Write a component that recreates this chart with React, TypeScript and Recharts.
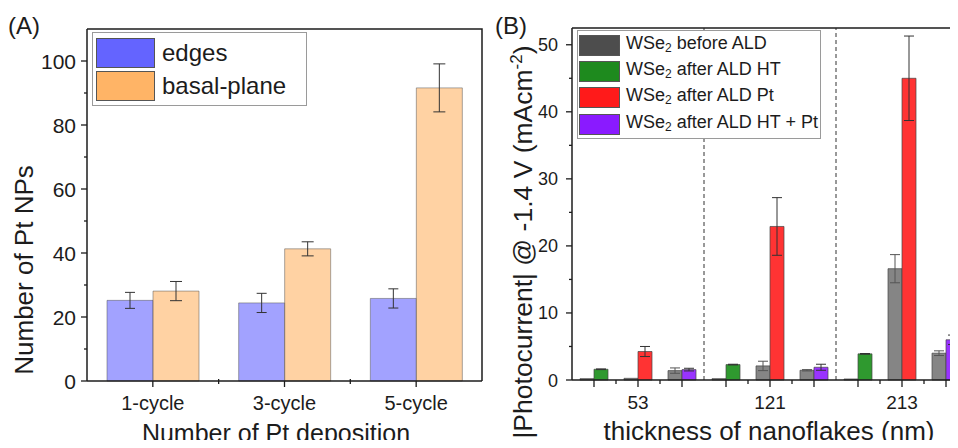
import { BarChart, Bar, XAxis, YAxis, ErrorBar, Cell, Legend, ReferenceLine, Label } from 'recharts'

const FONT = '"Liberation Sans", Arial, sans-serif'
const INK = '#1c1c1c'

// (A) Pt nanoparticles per deposition
const CYCLES = ['1-cycle', '3-cycle', '5-cycle']
const EDGES = [25.2, 24.4, 25.8]
const EDGES_ERR = [2.5, 3.0, 3.0]
const BASAL = [28.1, 41.3, 91.6]
const BASAL_ERR = [3.0, 2.2, 7.5]
const A_YTICKS = [0, 10, 20, 30, 40, 50, 60, 70, 80, 90, 100]
const A_YMAX = 110

// (B) photocurrent, three before/after pairs per thickness
const THICKNESS = ['53', '121', '213']
const PAIR_POS = [0, 2, 4, 6, 8, 10, 12, 14, 16]
const PAIR_KIND = ['ht', 'pt', 'htpt', 'ht', 'pt', 'htpt', 'ht', 'pt', 'htpt']
const BEFORE = [0.2, 0.25, 1.4, 0.2, 2.1, 1.45, 0.15, 16.6, 4.0]
const BEFORE_ERR = [0, 0, 0.4, 0, 0.7, 0.1, 0, 2.1, 0.35]
const AFTER = [1.6, 4.25, 1.55, 2.3, 22.9, 1.9, 3.9, 45.0, 6.0]
const AFTER_ERR = [0.05, 0.75, 0.2, 0.05, 4.3, 0.45, 0.05, 6.3, 0.7]
const B_XTICKS = [0, 1, 2, 3, 4, 6, 7, 8, 9, 10, 12, 13, 14, 15, 16]
const B_LABEL_POS = [2, 8, 14]
const DIVIDERS = [5, 11]
const B_YTICKS = [0, 5, 10, 15, 20, 25, 30, 35, 40, 45, 50]
const B_YMAX = 52.5

const BAR_COLORS: Record<string, string> = {
  before: '#858585',
  ht: '#2f992f',
  pt: '#ff3333',
  htpt: '#9933ff',
}

const B_LEGEND = [
  { color: '#4d4d4d', text: 'before ALD' },
  { color: '#1e8a1e', text: 'after ALD HT' },
  { color: '#ff1a1a', text: 'after ALD Pt' },
  { color: '#8a1aff', text: 'after ALD HT + Pt' },
]

const CHART_W = 490
const CHART_H = 448
const B_LEFT = 490
const A_MARGIN = { top: 29, right: 8, bottom: 0, left: 0 }
const B_MARGIN = { top: 28, right: 12, bottom: 0, left: 0 }
const A_YAXIS_W = 87
const A_XAXIS_H = 67
const B_YAXIS_W = 82
const B_XAXIS_H = 68

const dataA = CYCLES.map((name, i) => ({
  name,
  edges: EDGES[i],
  edgesErr: EDGES_ERR[i],
  basal: BASAL[i],
  basalErr: BASAL_ERR[i],
}))

const dataB = PAIR_POS.map((pos, i) => ({
  pos,
  kind: PAIR_KIND[i],
  before: BEFORE[i],
  beforeErr: BEFORE_ERR[i],
  after: AFTER[i],
  afterErr: AFTER_ERR[i],
}))

const axisLine = { stroke: INK, strokeWidth: 1.5 }

function AYTick({ y, payload }: any) {
  const v = payload.value
  const major = v % 20 === 0
  const x = A_YAXIS_W
  return (
    <g>
      <line x1={x} x2={x - (major ? 6 : 3)} y1={y} y2={y} stroke={INK} strokeWidth={1.3} />
      {major && (
        <text x={x - 11} y={y + 7.5} textAnchor="end" fontSize={21} fill={INK} fontFamily={FONT}>
          {v}
        </text>
      )}
    </g>
  )
}

function AXTick({ x, payload }: any) {
  const y = CHART_H - A_XAXIS_H
  // minor tick halfway to the next category
  return (
    <g>
      <line x1={x} x2={x} y1={y} y2={y + 6} stroke={INK} strokeWidth={1.3} />
      {payload.index < CYCLES.length - 1 && (
        <line x1={x + 65.8} x2={x + 65.8} y1={y - 2} y2={y + 3} stroke={INK} strokeWidth={1.3} />
      )}
      <text x={x} y={y + 29} textAnchor="middle" fontSize={20} fill={INK} fontFamily={FONT}>
        {payload.value}
      </text>
    </g>
  )
}

function BYTick({ y, payload }: any) {
  const v = payload.value
  const major = v % 10 === 0
  const x = B_YAXIS_W
  return (
    <g>
      <line x1={x} x2={x - (major ? 6 : 3)} y1={y} y2={y} stroke={INK} strokeWidth={1.3} />
      {major && (
        <text x={x - 14} y={y + 6.5} textAnchor="end" fontSize={18} fill={INK} fontFamily={FONT}>
          {v}
        </text>
      )}
    </g>
  )
}

function BXTick({ x, payload }: any) {
  const v = payload.value
  const y = CHART_H - B_XAXIS_H
  const idx = B_LABEL_POS.indexOf(v)
  return (
    <g>
      <line x1={x} x2={x} y1={y} y2={y + (v % 2 === 0 ? 7 : 4)} stroke={INK} strokeWidth={1.3} />
      {idx >= 0 && (
        <text x={x} y={y + 29} textAnchor="middle" fontSize={19} fill={INK} fontFamily={FONT}>
          {THICKNESS[idx]}
        </text>
      )}
    </g>
  )
}

function LegendA() {
  const rows = [
    { color: '#6464ff', text: 'edges' },
    { color: '#ffb466', text: 'basal-plane' },
  ]
  return (
    <div style={{ border: '1px solid #9a9a9a', padding: '3px 3px', width: 207, background: '#fff', fontFamily: FONT }}>
      {rows.map((r) => (
        <div key={r.text} style={{ display: 'flex', alignItems: 'center', height: 33 }}>
          <div style={{ width: 57, height: 28, background: r.color, border: '1px solid #555' }} />
          <span style={{ marginLeft: 7, fontSize: 24, color: INK, lineHeight: '28px' }}>{r.text}</span>
        </div>
      ))}
    </div>
  )
}

function LegendB() {
  return (
    <div style={{ border: '1px solid #9a9a9a', padding: '1px 1px', width: 240, background: '#fff', fontFamily: FONT }}>
      {B_LEGEND.map((r) => (
        <div key={r.text} style={{ display: 'flex', alignItems: 'center', height: 26.3 }}>
          <div style={{ width: 39, height: 19, background: r.color, border: '1px solid #555' }} />
          <span style={{ marginLeft: 6, fontSize: 18, color: INK, lineHeight: '20px', whiteSpace: 'nowrap' }}>
            WSe<sub style={{ fontSize: 12, verticalAlign: '-3px' }}>2</sub> {r.text}
          </span>
        </div>
      ))}
    </div>
  )
}

// top and right sides of both plot boxes, laid over the charts
function Frames() {
  const aTop = A_MARGIN.top
  const aRight = CHART_W - A_MARGIN.right
  const aBottom = CHART_H - A_XAXIS_H
  const bTop = B_MARGIN.top
  const bLeft = B_LEFT + B_YAXIS_W
  const bRight = B_LEFT + CHART_W - B_MARGIN.right
  const bBottom = CHART_H - B_XAXIS_H
  return (
    <svg width={958} height={CHART_H} style={{ position: 'absolute', left: 0, top: 0, pointerEvents: 'none', zIndex: 5 }}>
      <path d={`M${A_YAXIS_W},${aTop}H${aRight}V${aBottom}`} fill="none" stroke={INK} strokeWidth={1.5} />
      <path d={`M${bLeft},${bTop}H${bRight}V${bBottom}`} fill="none" stroke={INK} strokeWidth={1.5} />
    </svg>
  )
}

export default function App() {
  return (
    <div style={{ position: 'relative', width: 958, height: CHART_H, margin: -8, overflow: 'hidden', background: '#fff' }}>
      <div style={{ position: 'absolute', left: 0, top: 0 }}>
        <BarChart width={CHART_W} height={CHART_H} data={dataA} margin={A_MARGIN} barGap={0} barSize={46}>
          <XAxis dataKey="name" height={A_XAXIS_H} tickLine={false} tick={<AXTick />} axisLine={axisLine}>
            <Label
              content={() => (
                <text x={276} y={442} textAnchor="middle" fontSize={25} fill={INK} fontFamily={FONT}>
                  Number of Pt deposition
                </text>
              )}
            />
          </XAxis>
          <YAxis domain={[0, A_YMAX]} ticks={A_YTICKS} width={A_YAXIS_W} tickLine={false} tick={<AYTick />} axisLine={axisLine}>
            <Label
              content={() => (
                <g fontFamily={FONT} fill={INK}>
                  <text x={8} y={34} fontSize={24}>
                    (A)
                  </text>
                  <text x={33} y={270} transform="rotate(-90 33 270)" textAnchor="middle" fontSize={26}>
                    Number of Pt NPs
                  </text>
                </g>
              )}
            />
          </YAxis>
          <Legend
            layout="vertical"
            align="center"
            verticalAlign="middle"
            wrapperStyle={{ left: 92, top: 32, width: 215 }}
            content={() => <LegendA />}
          />
          <Bar dataKey="edges" fill="#6464ff" fillOpacity={0.6} stroke="#555" strokeOpacity={0.5} isAnimationActive={false}>
            <ErrorBar dataKey="edgesErr" width={5} stroke="#333" strokeWidth={1} />
          </Bar>
          <Bar dataKey="basal" fill="#ffb466" fillOpacity={0.6} stroke="#555" strokeOpacity={0.5} isAnimationActive={false}>
            <ErrorBar dataKey="basalErr" width={6} stroke="#333" strokeWidth={1} />
          </Bar>
        </BarChart>
      </div>

      <div style={{ position: 'absolute', left: B_LEFT, top: 0 }}>
        <BarChart width={CHART_W} height={CHART_H} data={dataB} margin={B_MARGIN} barGap={0} barSize={14}>
          <XAxis
            dataKey="pos"
            type="number"
            domain={[-1, 17]}
            ticks={B_XTICKS}
            height={B_XAXIS_H}
            tickLine={false}
            tick={<BXTick />}
            axisLine={axisLine}
          >
            <Label
              content={() => (
                <text x={279} y={440} textAnchor="middle" fontSize={26} fill={INK} fontFamily={FONT}>
                  thickness of nanoflakes (nm)
                </text>
              )}
            />
          </XAxis>
          <YAxis domain={[0, B_YMAX]} ticks={B_YTICKS} width={B_YAXIS_W} tickLine={false} tick={<BYTick />} axisLine={axisLine}>
            <Label
              content={() => (
                <g fontFamily={FONT} fill={INK}>
                  <text x={5} y={34} fontSize={24}>
                    (B)
                  </text>
                  <text x={42} y={242} transform="rotate(-90 42 242)" textAnchor="middle" fontSize={26.5}>
                    |Photocurrent| @ -1.4 V (mAcm
                    <tspan dy={-10} fontSize={17}>-2</tspan>
                    <tspan dy={10}>)</tspan>
                  </text>
                </g>
              )}
            />
          </YAxis>
          {DIVIDERS.map((d) => (
            <ReferenceLine key={d} x={d} stroke="#333" strokeDasharray="4 3" strokeWidth={1} />
          ))}
          <Legend
            layout="vertical"
            align="center"
            verticalAlign="middle"
            wrapperStyle={{ left: 87, top: 30, width: 246 }}
            content={() => <LegendB />}
          />
          <Bar dataKey="before" fill={BAR_COLORS.before} stroke="#444" strokeOpacity={0.7} isAnimationActive={false}>
            <ErrorBar dataKey="beforeErr" width={5} stroke="#555" strokeWidth={1} />
          </Bar>
          <Bar dataKey="after" stroke="#444" strokeOpacity={0.7} isAnimationActive={false}>
            {dataB.map((d) => (
              <Cell key={d.pos} fill={BAR_COLORS[d.kind]} />
            ))}
            <ErrorBar dataKey="afterErr" width={5} stroke="#333" strokeWidth={1} />
          </Bar>
        </BarChart>
      </div>

      <Frames />
    </div>
  )
}
